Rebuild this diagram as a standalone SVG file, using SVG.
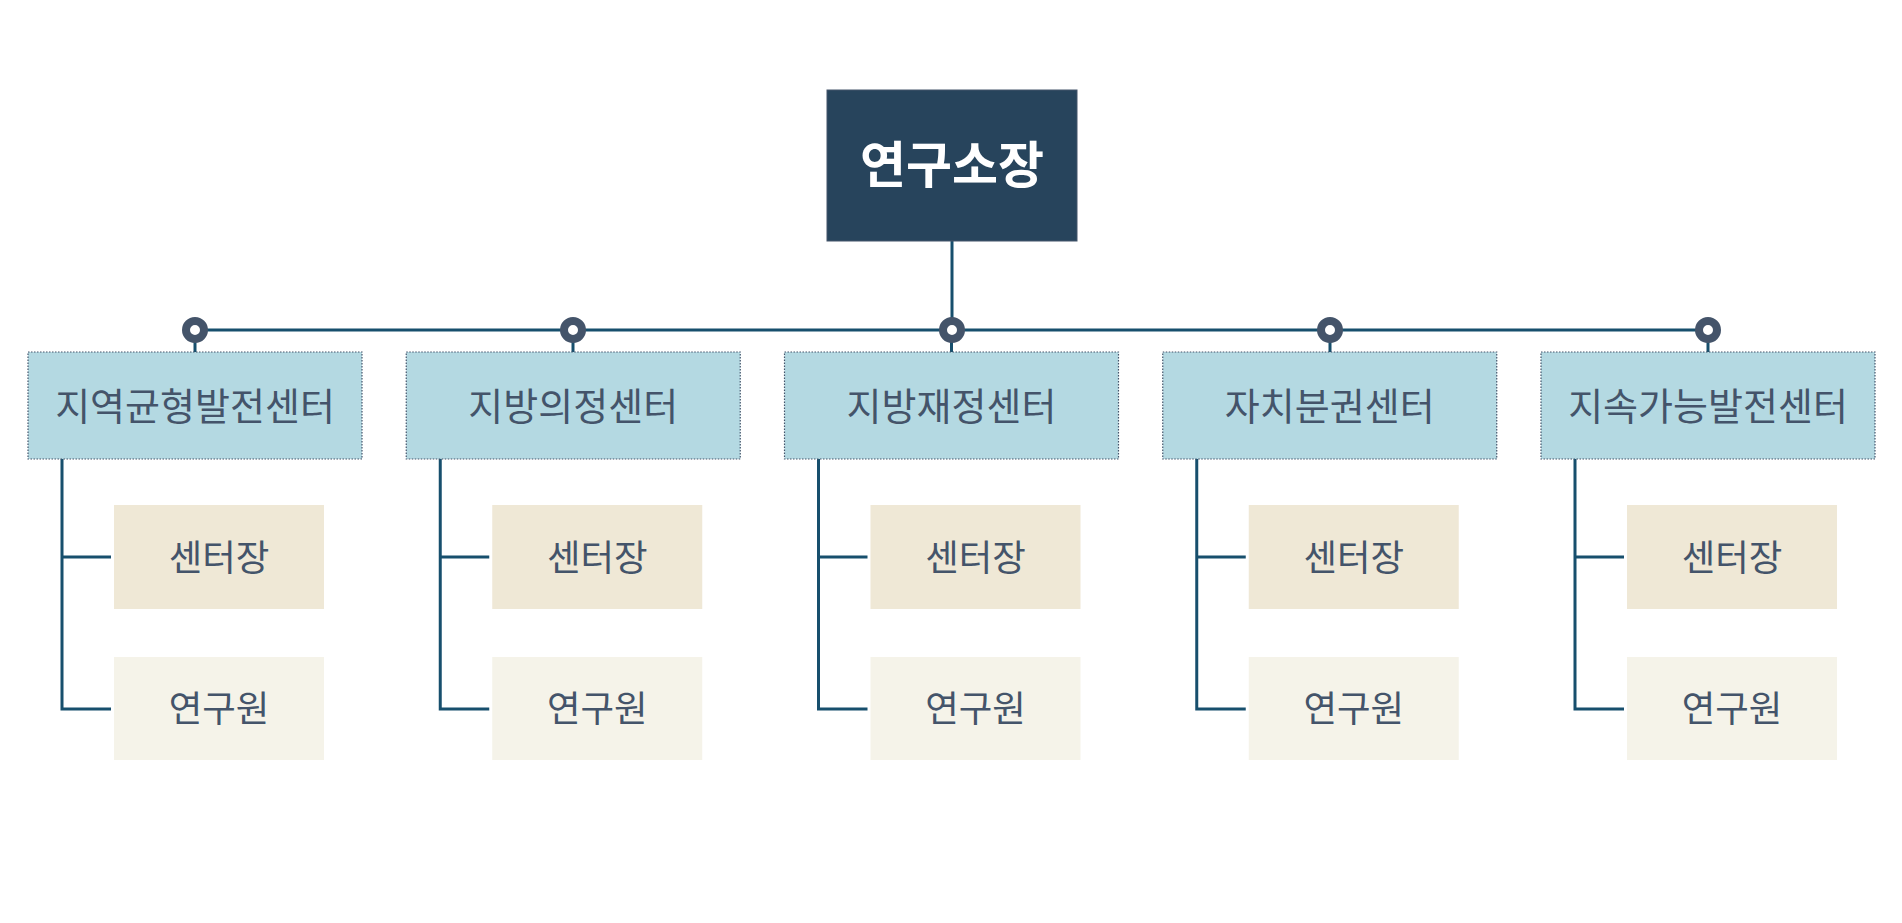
<svg xmlns="http://www.w3.org/2000/svg" width="1902" height="923" viewBox="0 0 1902 923">
<defs>
<style>
.ln{stroke:#174f6d;stroke-width:3;fill:none}
.dot{fill:#ffffff;stroke:#44546a;stroke-width:8}
.ctr rect{fill:#b4d9e2;stroke:#44546a;stroke-width:1.2;stroke-dasharray:1.5 1.5}
.head rect{fill:#efe8d6}
.mem rect{fill:#f5f3e9}
text{font-family:"Noto Sans CJK KR","Noto Sans",sans-serif;text-anchor:middle;dominant-baseline:central;fill:#44546a}
.ctr text{font-size:38px}
.head text,.mem text{font-size:36.5px}
#root text{fill:#ffffff;font-size:50px;font-weight:bold}
</style>
</defs>
<rect width="1902" height="923" fill="#ffffff"/>
<g id="connectors">
<line class="ln" x1="952" y1="241" x2="952" y2="330"/>
<line class="ln" x1="195" y1="330" x2="1708" y2="330"/>
<line class="ln" x1="195" y1="330" x2="195" y2="352"/>
<line class="ln" x1="573" y1="330" x2="573" y2="352"/>
<line class="ln" x1="951.5" y1="330" x2="951.5" y2="352"/>
<line class="ln" x1="1330" y1="330" x2="1330" y2="352"/>
<line class="ln" x1="1708" y1="330" x2="1708" y2="352"/>
<path class="ln" d="M62,459 V709 H111 M62,557 H111"/>
<path class="ln" d="M440.25,459 V709 H489.25 M440.25,557 H489.25"/>
<path class="ln" d="M818.5,459 V709 H867.5 M818.5,557 H867.5"/>
<path class="ln" d="M1196.75,459 V709 H1245.75 M1196.75,557 H1245.75"/>
<path class="ln" d="M1575,459 V709 H1624 M1575,557 H1624"/>
<circle class="dot" cx="195" cy="330" r="9"/>
<circle class="dot" cx="573" cy="330" r="9"/>
<circle class="dot" cx="952" cy="330" r="9"/>
<circle class="dot" cx="1330" cy="330" r="9"/>
<circle class="dot" cx="1708" cy="330" r="9"/>
</g>
<g id="root"><rect x="827" y="90" width="250" height="151" fill="#27445c" stroke="#44546a" stroke-width="1"/><text x="952" y="161">연구소장</text></g>
<g id="c1" class="ctr"><rect x="28" y="352" width="334" height="107"/><text x="195" y="403">지역균형발전센터</text></g>
<g id="c2" class="ctr"><rect x="406.25" y="352" width="334" height="107"/><text x="573.25" y="403">지방의정센터</text></g>
<g id="c3" class="ctr"><rect x="784.5" y="352" width="334" height="107"/><text x="951.5" y="403">지방재정센터</text></g>
<g id="c4" class="ctr"><rect x="1162.75" y="352" width="334" height="107"/><text x="1329.75" y="403">자치분권센터</text></g>
<g id="c5" class="ctr"><rect x="1541" y="352" width="334" height="107"/><text x="1708" y="403">지속가능발전센터</text></g>
<g id="h1" class="head"><rect x="114" y="505" width="210" height="104"/><text x="219" y="555">센터장</text></g>
<g id="h2" class="head"><rect x="492.25" y="505" width="210" height="104"/><text x="597.25" y="555">센터장</text></g>
<g id="h3" class="head"><rect x="870.5" y="505" width="210" height="104"/><text x="975.5" y="555">센터장</text></g>
<g id="h4" class="head"><rect x="1248.75" y="505" width="210" height="104"/><text x="1353.75" y="555">센터장</text></g>
<g id="h5" class="head"><rect x="1627" y="505" width="210" height="104"/><text x="1732" y="555">센터장</text></g>
<g id="m1" class="mem"><rect x="114" y="657" width="210" height="103"/><text x="219" y="706">연구원</text></g>
<g id="m2" class="mem"><rect x="492.25" y="657" width="210" height="103"/><text x="597.25" y="706">연구원</text></g>
<g id="m3" class="mem"><rect x="870.5" y="657" width="210" height="103"/><text x="975.5" y="706">연구원</text></g>
<g id="m4" class="mem"><rect x="1248.75" y="657" width="210" height="103"/><text x="1353.75" y="706">연구원</text></g>
<g id="m5" class="mem"><rect x="1627" y="657" width="210" height="103"/><text x="1732" y="706">연구원</text></g>
</svg>
